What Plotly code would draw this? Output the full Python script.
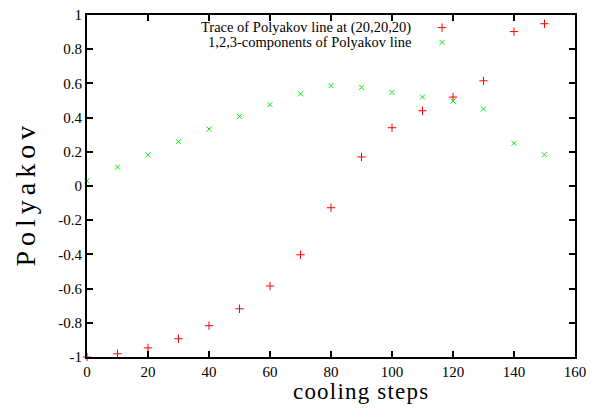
import plotly.graph_objects as go

steps = [0, 10, 20, 30, 40, 50, 60, 70, 80, 90, 100, 110, 120, 130, 140, 150]
trace_vals = [-1.0, -0.981, -0.947, -0.893, -0.817, -0.718, -0.585, -0.402,
              -0.127, 0.17, 0.341, 0.44, 0.52, 0.615, 0.903, 0.949]
comp_vals = [0.03, 0.11, 0.183, 0.259, 0.333, 0.407, 0.476, 0.539,
             0.587, 0.577, 0.547, 0.52, 0.497, 0.45, 0.25, 0.183]
series_names = ["Trace of Polyakov line at (20,20,20)",
                "1,2,3-components of Polyakov line"]
x_ticks = [0, 20, 40, 60, 80, 100, 120, 140, 160]
y_ticks = [-1, -0.8, -0.6, -0.4, -0.2, 0, 0.2, 0.4, 0.6, 0.8, 1]

FONT = "Liberation Serif"
RED = "#ff0000"
GREEN = "#00ee00"

def mk(symbol, size, color):
    return dict(symbol=symbol, size=size, color=color, line=dict(color=color, width=1))

fig = go.Figure()
fig.add_trace(go.Scatter(x=steps, y=trace_vals, mode="markers", name=series_names[0],
                         marker=mk("cross-thin-open", 6, RED),
                         cliponaxis=False, showlegend=False))
fig.add_trace(go.Scatter(x=steps, y=comp_vals, mode="markers", name=series_names[1],
                         marker=mk("x-thin-open", 5, GREEN),
                         cliponaxis=False, showlegend=False))

# legend keys (gnuplot style: text then symbol at right)
key_x = 0.7275
key_rows = [0.963, 0.92]
text_x = 0.668
fig.add_trace(go.Scatter(x=[key_x], y=[key_rows[0]], mode="markers", xaxis="x2", yaxis="y2",
                         marker=mk("cross-thin-open", 6, RED),
                         showlegend=False, hoverinfo="skip"))
fig.add_trace(go.Scatter(x=[key_x], y=[key_rows[1]], mode="markers", xaxis="x2", yaxis="y2",
                         marker=mk("x-thin-open", 5, GREEN),
                         showlegend=False, hoverinfo="skip"))
for name, ry in zip(series_names, key_rows):
    fig.add_annotation(xref="paper", yref="paper", x=text_x, y=ry, text=name,
                       showarrow=False, xanchor="right", yanchor="middle",
                       font=dict(family=FONT, size=14.5, color="black"))

axis_common = dict(showline=True, linecolor="black", linewidth=2, mirror="ticks",
                   ticks="inside", ticklen=6, tickwidth=1.5, tickcolor="black",
                   showgrid=False, zeroline=False,
                   tickfont=dict(family=FONT, size=15, color="black"))

fig.update_layout(
    width=606, height=411,
    margin=dict(l=87, r=31, t=7, b=54),
    paper_bgcolor="white", plot_bgcolor="white",
    font=dict(family=FONT, color="black"),
    xaxis=dict(range=[0, 160], tickvals=x_ticks, ticktext=[str(v) for v in x_ticks],
               **axis_common),
    yaxis=dict(range=[-1, 1], tickvals=y_ticks, ticktext=[f"{v:g}" for v in y_ticks],
               **axis_common),
    xaxis2=dict(range=[0, 1], overlaying="x", visible=False, fixedrange=True),
    yaxis2=dict(range=[0, 1], overlaying="y", visible=False, fixedrange=True),
    showlegend=False,
)
fig.add_annotation(xref="paper", yref="paper", x=(361 - 87) / 488, y=-0.1,
                   text='<span style="letter-spacing:1.2px">cooling steps</span>',
                   showarrow=False, xanchor="center", yanchor="middle",
                   font=dict(family=FONT, size=23, color="black"))
fig.add_annotation(xref="paper", yref="paper", x=-0.127, y=0.478,
                   text='<span style="letter-spacing:5px">Polyakov</span>',
                   showarrow=False, textangle=-90,
                   xanchor="center", yanchor="middle",
                   font=dict(family=FONT, size=28, color="black"))

fig.write_html("out.html")
